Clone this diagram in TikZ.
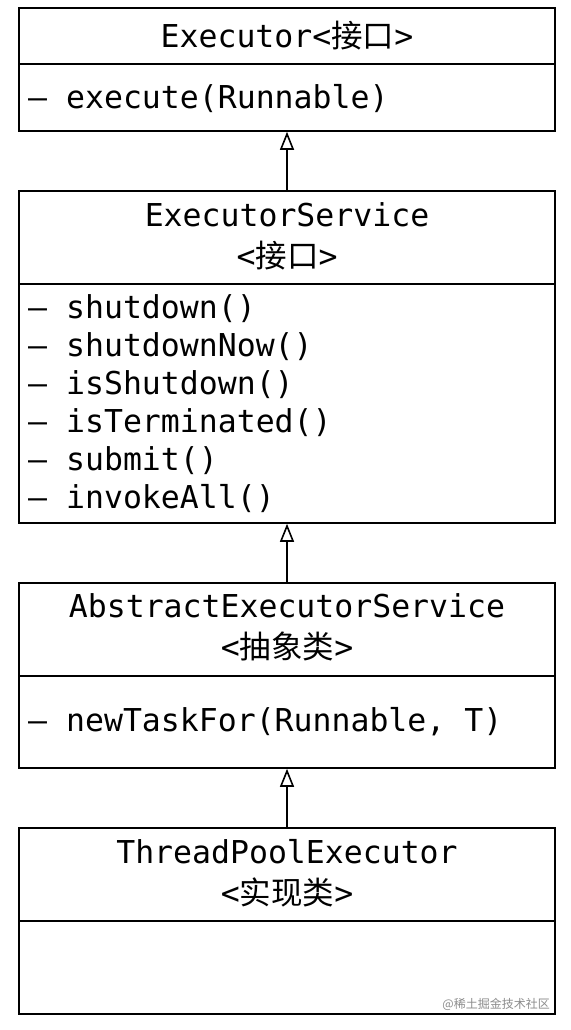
\documentclass[tikz,border=0pt]{standalone}
\usepackage{fontspec}
\setmonofont{DejaVu Sans Mono}
\newfontfamily\cjk{Noto Sans CJK SC}
\usetikzlibrary{arrows.meta}
\begin{document}
\begin{tikzpicture}[x=1pt,y=-1pt,
  umlbox/.style={draw=black,line width=1.6pt,minimum width=536pt,inner sep=0pt,rectangle},
  title/.style={inner sep=0pt,anchor=base,font=\ttfamily\fontsize{31.5}{38}\selectfont},
  member/.style={inner sep=0pt,anchor=base west,font=\ttfamily\fontsize{31.5}{38}\selectfont},
  divider/.style={line width=1.6pt},
  inherit/.style={line width=1.6pt,-{Triangle[open,length=18pt,width=14pt,line width=1.6pt]}},
  wmtext/.style={inner sep=0pt,anchor=base east,text=black!45,font=\cjk\fontsize{12}{14}\selectfont}
]
\useasboundingbox[fill=white] (0,0) rectangle (570,1030);

% boxes
\node[umlbox,minimum height=123pt] (b1) at (287,69.5) {};
\node[umlbox,minimum height=332pt] (b2) at (287,357) {};
\node[umlbox,minimum height=185pt] (b3) at (287,675.5) {};
\node[umlbox,minimum height=186pt] (b4) at (287,921) {};

% dividers
\draw[divider] (b1.west |- 0,64) -- (b1.east |- 0,64);
\draw[divider] (b2.west |- 0,284) -- (b2.east |- 0,284);
\draw[divider] (b3.west |- 0,676) -- (b3.east |- 0,676);
\draw[divider] (b4.west |- 0,921) -- (b4.east |- 0,921);

% box 1
\node[title] (t1) at (287,48) {Executor<{\cjk 接口}>};
\node[member] (m11) at (28,109) {– execute(Runnable)};

% box 2
\node[title] (t2) at (287,226) {ExecutorService};
\node[title] (s2) at (287,267) {<{\cjk 接口}>};
\node[member] (m21) at (28,318) {– shutdown()};
\node[member] (m22) at (28,356) {– shutdownNow()};
\node[member] (m23) at (28,394) {– isShutdown()};
\node[member] (m24) at (28,432) {– isTerminated()};
\node[member] (m25) at (28,470) {– submit()};
\node[member] (m26) at (28,508) {– invokeAll()};

% box 3
\node[title] (t3) at (287,617) {AbstractExecutorService};
\node[title] (s3) at (287,658) {<{\cjk 抽象类}>};
\node[member] (m31) at (28,731) {– newTaskFor(Runnable, T)};

% box 4
\node[title] (t4) at (287,863) {ThreadPoolExecutor};
\node[title] (s4) at (287,904) {<{\cjk 实现类}>};

% inheritance arrows
\draw[inherit] (b2.north) -- (b1.south);
\draw[inherit] (b3.north) -- (b2.south);
\draw[inherit] (b4.north) -- (b3.south);

% watermark
\node[wmtext] (wm) at (550,1008) {@稀土掘金技术社区};
\end{tikzpicture}
\end{document}
